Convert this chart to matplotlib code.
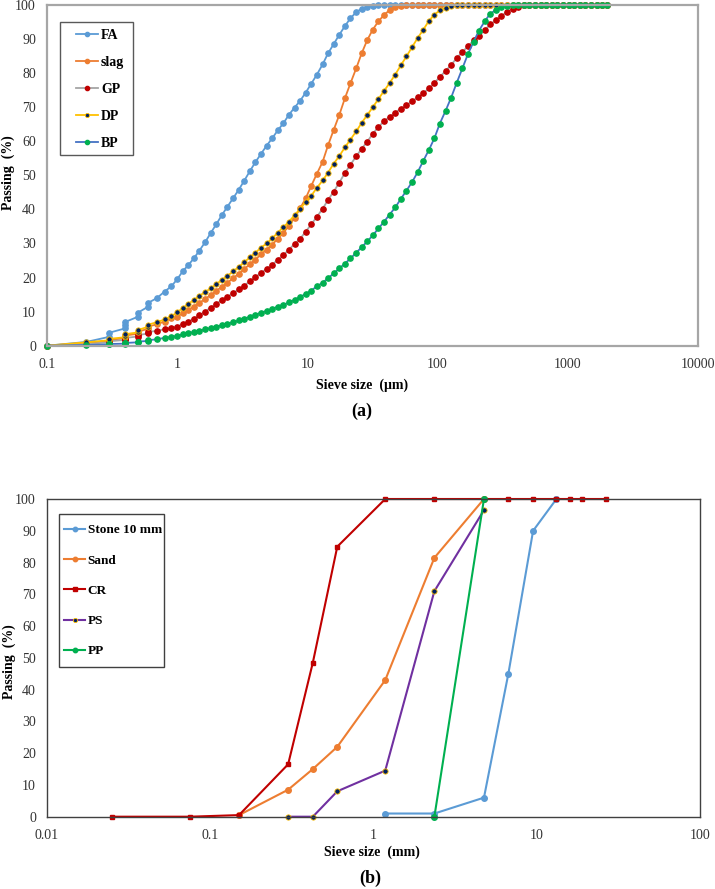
import matplotlib
matplotlib.use("Agg")
import matplotlib.pyplot as plt
from matplotlib.patches import Rectangle
from matplotlib.ticker import FixedLocator, FixedFormatter, NullLocator

plt.rcParams["font.family"] = ["Liberation Serif", "DejaVu Serif"]

# ---- (a) powders, laser sizing (um) ----
size_um = [0.1, 0.2, 0.3, 0.3, 0.4, 0.4, 0.4, 0.5, 0.5, 0.6, 0.6, 0.7, 0.8, 0.9,
           1.00, 1.10, 1.22, 1.34, 1.48, 1.64, 1.81, 2.00, 2.20, 2.43, 2.69, 2.96, 3.27, 3.61, 3.99, 4.40,
           4.86, 5.37, 5.92, 6.54, 7.22, 7.97, 8.80, 9.71, 10.7, 11.8, 13.1, 14.4, 15.9, 17.6, 19.4, 21.4,
           23.7, 26.1, 28.8, 31.8, 35.1, 38.8, 42.8, 47.3, 52.2, 57.6, 63.6, 70.2, 77.5, 85.6, 94.5, 104,
           115, 127, 140, 155, 171, 189, 208, 230, 254, 280, 309, 342, 377, 416, 460, 507, 560, 618, 683,
           754, 832, 919, 1014, 1120, 1236, 1365, 1507, 1663, 1836, 2000]

fa = [0, 1.1, 2.6, 3.8, 5.1, 6.1, 7.0, 8.5, 9.7, 11.5, 12.6, 14.0, 15.9, 17.4,
      19.5, 21.8, 23.7, 25.6, 27.9, 30.4, 33.1, 35.7, 38.3, 40.8, 43.3, 45.7, 48.4, 51.2, 53.9, 56.3,
      58.7, 60.9, 63.2, 65.3, 67.8, 69.9, 71.9, 74.3, 76.9, 79.5, 82.6, 85.8, 88.5, 91.3, 93.8, 96.1,
      97.9, 98.9, 99.4, 99.8, 100, 100, 100, 100, 100, 100, 100, 100, 100, 100, 100, 100,
      100, 100, 100, 100, 100, 100, 100, 100, 100, 100, 100, 100, 100, 100, 100, 100, 100, 100, 100,
      100, 100, 100, 100, 100, 100, 100, 100, 100, 100, 100]

slag = [0, 0.8, 1.4, 1.7, 2.2, 2.6, 3.0, 3.5, 4.1, 5.0, 5.6, 6.3, 7.1, 8.0,
        8.5, 9.5, 10.5, 11.5, 12.6, 13.7, 14.9, 16.1, 17.3, 18.5, 19.8, 21.1, 22.5, 23.9, 25.3, 26.8,
        28.2, 29.7, 31.4, 33.2, 35.2, 37.6, 40.3, 43.3, 46.9, 50.4, 54.0, 58.8, 63.3, 67.8, 72.6, 77.0,
        81.4, 85.8, 89.7, 92.8, 95.2, 97.1, 98.5, 99.4, 99.8, 100, 100, 100, 100, 100, 100, 100,
        100, 100, 100, 100, 100, 100, 100, 100, 100, 100, 100, 100, 100, 100, 100, 100, 100, 100, 100,
        100, 100, 100, 100, 100, 100, 100, 100, 100, 100, 100]

gp = [0, 0.5, 1.0, 1.3, 1.7, 2.0, 2.3, 2.7, 3.1, 3.6, 4.0, 4.4, 4.8, 5.2,
      5.6, 6.3, 7.1, 7.9, 8.9, 10.0, 11.2, 12.3, 13.4, 14.4, 15.4, 16.5, 17.6, 18.9, 20.1, 21.4,
      22.5, 23.8, 25.2, 26.6, 28.2, 29.9, 31.4, 33.5, 35.6, 37.8, 40.2, 42.8, 45.2, 47.9, 50.7, 53.1,
      55.6, 57.8, 59.9, 62.2, 64.2, 65.9, 67.2, 68.4, 69.6, 70.6, 71.7, 72.9, 74.1, 75.5, 77.1, 78.9,
      80.6, 82.4, 84.4, 86.2, 87.9, 89.6, 91.0, 92.6, 94.3, 95.5, 96.8, 98.0, 98.9, 99.5, 99.9, 100, 100, 100, 100,
      100, 100, 100, 100, 100, 100, 100, 100, 100, 100, 100]

dp = [0, 1.0, 1.6, 2.0, 2.5, 2.9, 3.4, 3.9, 4.6, 5.6, 6.2, 6.9, 7.7, 8.6,
      9.8, 11.0, 12.3, 13.4, 14.6, 15.8, 16.8, 18.1, 19.3, 20.5, 21.8, 23.1, 24.5, 25.9, 27.3, 28.8,
      30.0, 31.5, 33.2, 34.8, 36.4, 38.3, 40.2, 42.2, 44.0, 46.3, 48.5, 50.8, 53.4, 55.7, 58.2, 60.5,
      62.9, 65.4, 67.7, 70.0, 72.4, 74.8, 77.1, 79.6, 82.3, 84.9, 87.6, 90.3, 92.7, 95.3, 97.2, 98.4,
      99.2, 99.7, 99.9, 100, 100, 100, 100, 100, 100, 100, 100, 100, 100, 100, 100, 100, 100, 100, 100,
      100, 100, 100, 100, 100, 100, 100, 100, 100, 100, 100]

bp = [0, 0.2, 0.4, 0.5, 0.6, 0.7, 0.8, 1.0, 1.2, 1.4, 1.6, 1.9, 2.3, 2.6,
      2.9, 3.3, 3.7, 4.0, 4.4, 4.8, 5.2, 5.6, 6.0, 6.5, 6.9, 7.4, 7.9, 8.5, 9.1, 9.7,
      10.2, 10.8, 11.5, 12.0, 12.7, 13.5, 14.3, 15.2, 16.2, 17.4, 18.5, 19.8, 21.2, 22.7, 24.1, 25.6,
      27.3, 28.9, 30.6, 32.4, 34.4, 36.4, 38.5, 40.6, 43.1, 45.5, 48.0, 50.9, 54.2, 57.4, 60.9, 65.2,
      68.9, 72.8, 77.1, 81.4, 85.6, 89.2, 92.5, 95.2, 97.5, 98.5, 99.4, 99.8, 100, 100, 100, 100, 100, 100, 100,
      100, 100, 100, 100, 100, 100, 100, 100, 100, 100, 100]

# ---- (b) aggregates, sieve analysis (mm) ----
stone_x = [1.18, 2.36, 4.75, 6.7, 9.5, 13.2]
stone_y = [1, 1, 6, 45, 90, 100]
sand_x = [0.15, 0.3, 0.425, 0.6, 1.18, 2.36, 4.75]
sand_y = [0.5, 8.5, 15, 22, 43, 81.5, 100]
cr_x = [0.025, 0.075, 0.15, 0.3, 0.425, 0.6, 1.18, 2.36, 4.75, 6.7, 9.5, 13.2, 16, 19, 26.5]
cr_y = [0, 0, 0.5, 16.5, 48.5, 85, 100, 100, 100, 100, 100, 100, 100, 100, 100]
ps_x = [0.3, 0.425, 0.6, 1.18, 2.36, 4.75]
ps_y = [0, 0, 8, 14.5, 71, 96.5]
pp_x = [2.36, 4.75]
pp_y = [0, 100]

W, H = 715, 889
fig = plt.figure(figsize=(W / 100, H / 100), dpi=100)


def px_axes(left, top, right, bottom):
    return fig.add_axes([left / W, 1 - bottom / H, (right - left) / W, (bottom - top) / H])


def style(ax, xt, xl, spine_col, spine_w):
    ax.set_xscale("log")
    ax.set_xlim(xt[0], xt[-1])
    ax.set_ylim(0, 100)
    ax.xaxis.set_major_locator(FixedLocator(xt))
    ax.xaxis.set_major_formatter(FixedFormatter(xl))
    ax.xaxis.set_minor_locator(NullLocator())
    ax.set_yticks(range(0, 101, 10))
    ax.tick_params(axis="both", length=0, labelsize=10, colors="#333333")
    ax.tick_params(axis="x", pad=9)
    ax.tick_params(axis="y", pad=8)
    for s in ax.spines.values():
        s.set_color(spine_col)
        s.set_linewidth(spine_w)


def box_legend(ax, box, anchor, size, ls, col):
    # white framed box (pixels) with a frameless legend placed inside it
    l, t, r, b = box
    ax.add_patch(Rectangle((l / W, 1 - b / H), (r - l) / W, (b - t) / H, transform=fig.transFigure,
                           facecolor="white", edgecolor=col, lw=1.0, zorder=4.5, clip_on=False))
    ax.legend(loc="upper left", bbox_to_anchor=(anchor[0] / W, 1 - anchor[1] / H),
              bbox_transform=fig.transFigure, borderaxespad=0, borderpad=0, frameon=False,
              prop=dict(weight="bold", size=size), handlelength=1.6, handletextpad=0.2,
              labelspacing=ls, markerscale=0.8)


# ---------- (a) ----------
ax1 = px_axes(47, 5, 698, 345.7)
style(ax1, [0.1, 1, 10, 100, 1000, 10000], ["0.1", "1", "10", "100", "1000", "10000"], "#a6a6a6", 1.6)

kw = dict(lw=1.3, marker="o", ms=3.8, clip_on=False)
ax1.plot(size_um, fa, color="#5b9bd5", mfc="#5b9bd5", mec="#5b9bd5", label="FA", **kw)
ax1.plot(size_um, slag, color="#ed7d31", mfc="#ed7d31", mec="#ed7d31", label="slag", **kw)
ax1.plot(size_um, gp, color="#a5a5a5", mfc="#c00000", mec="#c00000", label="GP", **kw)
ax1.plot(size_um, dp, color="#ffc000", mfc="#002060", mec="#ffc000", mew=0.6, label="DP", **kw)
ax1.plot(size_um, bp, color="#4472c4", mfc="#00b050", mec="#00b050", label="BP", **kw)

box_legend(ax1, (60, 22, 133, 155), (76, 29), 10, 1.0, "#595959")

fig.text(8 / W, 1 - 173 / H, "Passing  (%)", rotation=90, ha="center", va="center",
         fontsize=10, fontweight="bold")
fig.text(362 / W, 1 - 385 / H, "Sieve size  (μm)", ha="center", va="center",
         fontsize=10, fontweight="bold")
fig.text(362 / W, 1 - 411 / H, "(a)", ha="center", va="center", fontsize=13, fontweight="bold")

# ---------- (b) ----------
ax2 = px_axes(47, 499, 700, 816.7)
style(ax2, [0.01, 0.1, 1, 10, 100], ["0.01", "0.1", "1", "10", "100"], "#404040", 1.0)

kw2 = dict(lw=1.5, clip_on=False)
ax2.plot(stone_x, stone_y, color="#5b9bd5", marker="o", ms=4, mfc="#5b9bd5", mec="#5b9bd5",
         label="Stone 10 mm", **kw2)
ax2.plot(sand_x, sand_y, color="#ed7d31", marker="o", ms=4, mfc="#ed7d31", mec="#ed7d31",
         label="Sand", **kw2)
ax2.plot(cr_x, cr_y, color="#c00000", marker="s", ms=3.2, mfc="#c00000", mec="#c00000",
         label="CR", **kw2)
ax2.plot(ps_x, ps_y, color="#7030a0", marker="o", ms=3.8, mfc="#002060", mec="#ffc000", mew=0.6,
         label="PS", **kw2)
ax2.plot(pp_x, pp_y, color="#00b050", marker="o", ms=4, mfc="#00b050", mec="#00b050",
         label="PP", **kw2)

box_legend(ax2, (59, 514, 164, 667), (64, 524), 9.5, 1.37, "#404040")

fig.text(9 / W, 1 - 662 / H, "Passing  (%)", rotation=90, ha="center", va="center",
         fontsize=10, fontweight="bold")
fig.text(372 / W, 1 - 852 / H, "Sieve size  (mm)", ha="center", va="center",
         fontsize=10, fontweight="bold")
fig.text(370 / W, 1 - 878 / H, "(b)", ha="center", va="center", fontsize=13, fontweight="bold")

fig.savefig("out.png", dpi=100)
